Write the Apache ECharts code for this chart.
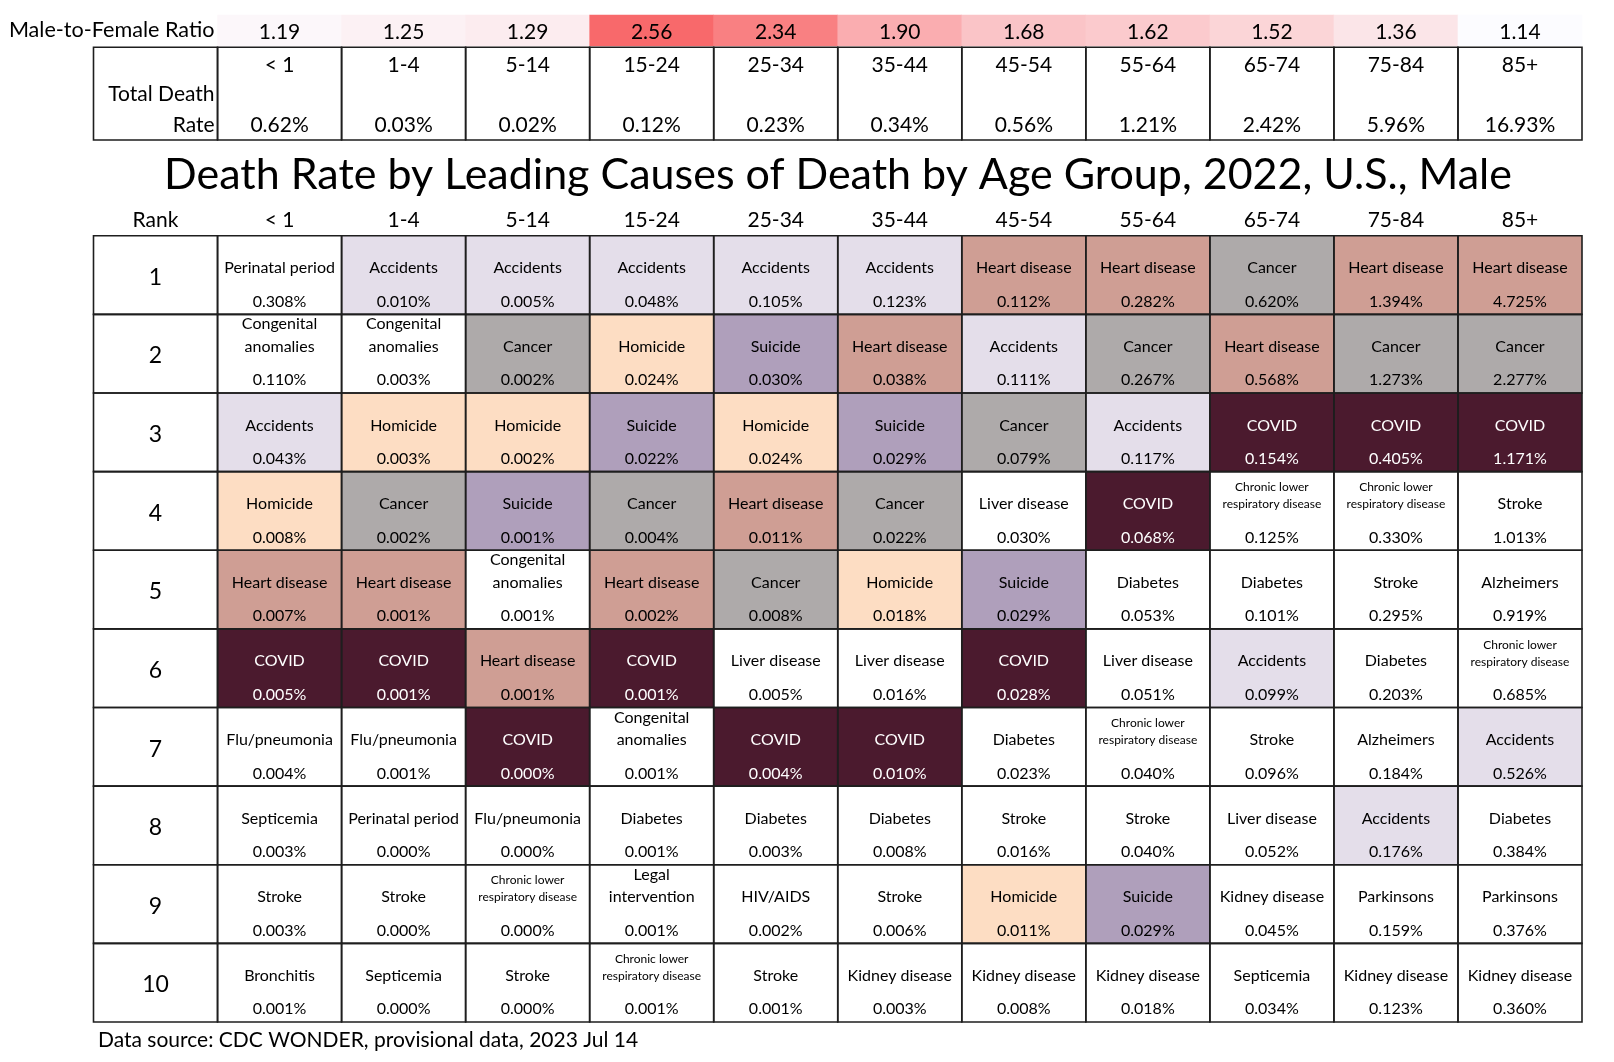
<!DOCTYPE html>
<html><head><meta charset="utf-8">
<script src="https://cdn.jsdelivr.net/npm/echarts@6/dist/echarts.min.js"></script>
<style>html,body{margin:0;padding:0;background:#fff}#chart{width:1614px;height:1062px}</style>
</head><body><div id="chart"></div>
<script>
// ---------------- data ----------------
const ageGroups = ['< 1','1-4','5-14','15-24','25-34','35-44','45-54','55-64','65-74','75-84','85+'];
const maleToFemaleRatio = [1.19,1.25,1.29,2.56,2.34,1.90,1.68,1.62,1.52,1.36,1.14];
const totalDeathRate = [0.62,0.03,0.02,0.12,0.23,0.34,0.56,1.21,2.42,5.96,16.93];
const rankLabels = ['1','2','3','4','5','6','7','8','9','10'];
const causesByRank = [
  ['Perinatal period','Accidents','Accidents','Accidents','Accidents','Accidents','Heart disease','Heart disease','Cancer','Heart disease','Heart disease'],
  ['Congenital anomalies','Congenital anomalies','Cancer','Homicide','Suicide','Heart disease','Accidents','Cancer','Heart disease','Cancer','Cancer'],
  ['Accidents','Homicide','Homicide','Suicide','Homicide','Suicide','Cancer','Accidents','COVID','COVID','COVID'],
  ['Homicide','Cancer','Suicide','Cancer','Heart disease','Cancer','Liver disease','COVID','Chronic lower respiratory disease','Chronic lower respiratory disease','Stroke'],
  ['Heart disease','Heart disease','Congenital anomalies','Heart disease','Cancer','Homicide','Suicide','Diabetes','Diabetes','Stroke','Alzheimers'],
  ['COVID','COVID','Heart disease','COVID','Liver disease','Liver disease','COVID','Liver disease','Accidents','Diabetes','Chronic lower respiratory disease'],
  ['Flu/pneumonia','Flu/pneumonia','COVID','Congenital anomalies','COVID','COVID','Diabetes','Chronic lower respiratory disease','Stroke','Alzheimers','Accidents'],
  ['Septicemia','Perinatal period','Flu/pneumonia','Diabetes','Diabetes','Diabetes','Stroke','Stroke','Liver disease','Accidents','Diabetes'],
  ['Stroke','Stroke','Chronic lower respiratory disease','Legal intervention','HIV/AIDS','Stroke','Homicide','Suicide','Kidney disease','Parkinsons','Parkinsons'],
  ['Bronchitis','Septicemia','Stroke','Chronic lower respiratory disease','Stroke','Kidney disease','Kidney disease','Kidney disease','Septicemia','Kidney disease','Kidney disease']
];
const ratesByRank = [
  [0.308,0.010,0.005,0.048,0.105,0.123,0.112,0.282,0.620,1.394,4.725],
  [0.110,0.003,0.002,0.024,0.030,0.038,0.111,0.267,0.568,1.273,2.277],
  [0.043,0.003,0.002,0.022,0.024,0.029,0.079,0.117,0.154,0.405,1.171],
  [0.008,0.002,0.001,0.004,0.011,0.022,0.030,0.068,0.125,0.330,1.013],
  [0.007,0.001,0.001,0.002,0.008,0.018,0.029,0.053,0.101,0.295,0.919],
  [0.005,0.001,0.001,0.001,0.005,0.016,0.028,0.051,0.099,0.203,0.685],
  [0.004,0.001,0.000,0.001,0.004,0.010,0.023,0.040,0.096,0.184,0.526],
  [0.003,0.000,0.000,0.001,0.003,0.008,0.016,0.040,0.052,0.176,0.384],
  [0.003,0.000,0.000,0.001,0.002,0.006,0.011,0.029,0.045,0.159,0.376],
  [0.001,0.000,0.000,0.001,0.001,0.003,0.008,0.018,0.034,0.123,0.360]
];
const titleText = 'Death Rate by Leading Causes of Death by Age Group, 2022, U.S., Male';
const sourceText = 'Data source: CDC WONDER, provisional data, 2023 Jul 14';

// ---------------- styles ----------------
const FONT = 'Lato, "Open Sans", sans-serif';
const causeColors = {
  'Accidents':'#E4DEEA', 'Cancer':'#AEAAAA', 'Heart disease':'#CF9E94',
  'Homicide':'#FDDDC3', 'Suicide':'#AF9FBB', 'COVID':'#4B1A2E'
};
const wrapped = {'Congenital anomalies':['Congenital','anomalies'], 'Legal intervention':['Legal','intervention']};
const smallWrapped = {'Chronic lower respiratory disease':['Chronic lower','respiratory disease']};
const LINE = '#1e1e1e', LW = 1.6;

function cellBox(api){
  const c = api.coord([api.value(0), api.value(1)]);
  const s = api.size([1,1]);
  return {x:c[0]-s[0]/2, y:c[1]-s[1]/2, w:s[0], h:s[1], cx:c[0]};
}
function txt(x, y, text, size, color, align){
  return {type:'text', x:x, y:y, silent:true,
    style:{text:text, fill:color||'#000', fontSize:size, fontFamily:FONT, align:align||'center', verticalAlign:'middle'}};
}
function borderItem(params, api){
  const b = cellBox(api);
  return {type:'rect', shape:{x:b.x,y:b.y,width:b.w,height:b.h}, style:{fill:'none', stroke:LINE, lineWidth:LW}};
}

const heatData = maleToFemaleRatio.map((v,i)=>[i,0,v]);
const totalData = [[0,0]].concat(totalDeathRate.map((v,i)=>[i+1,0]));
const mainData = [];
for (let r=0;r<rankLabels.length;r++) for (let c=0;c<=ageGroups.length;c++) mainData.push([c,r]);

const chart = echarts.init(document.getElementById('chart'), null, {renderer:'canvas'});
chart.setOption({
  animation:false,
  backgroundColor:'#fff',
  textStyle:{fontFamily:FONT},
  grid:[
    {left:217.5, right:32, top:15, height:31},
    {left:93.5, right:32, top:47.3, height:92.7},
    {left:93.5, right:32, top:235.7, height:786.3}
  ],
  xAxis:[
    {gridIndex:0, type:'category', data:ageGroups, show:false},
    {gridIndex:1, type:'category', data:[''].concat(ageGroups), show:false},
    {gridIndex:2, type:'category', data:['Rank'].concat(ageGroups), position:'top',
      axisLine:{show:false}, axisTick:{show:false}, splitLine:{show:false},
      axisLabel:{fontSize:21, color:'#000', fontFamily:FONT, margin:5, interval:0}}
  ],
  yAxis:[
    {gridIndex:0, type:'category', data:['Male-to-Female Ratio'],
      axisLine:{show:false}, axisTick:{show:false}, splitLine:{show:false},
      axisLabel:{fontSize:21.6, color:'#000', fontFamily:FONT, margin:3, padding:[5,0,0,0]}},
    {gridIndex:1, type:'category', data:['Total'], show:false},
    {gridIndex:2, type:'category', data:rankLabels, inverse:true, show:false}
  ],
  visualMap:{show:false, seriesIndex:0, type:'continuous', dimension:2,
    min:Math.min(...maleToFemaleRatio), max:Math.max(...maleToFemaleRatio),
    inRange:{color:['#FCFCFF','#F8696B']}},
  graphic:[
    {type:'text', x:838, y:175, silent:true,
      style:{text:titleText, fontSize:43, fontFamily:FONT, fill:'#000', align:'center', verticalAlign:'middle'}},
    {type:'text', x:98, y:1040, silent:true,
      style:{text:sourceText, fontSize:21, fontFamily:FONT, fill:'#000', align:'left', verticalAlign:'middle'}}
  ],
  series:[
    {type:'heatmap', xAxisIndex:0, yAxisIndex:0, data:heatData, silent:true,
      itemStyle:{borderWidth:0},
      label:{show:true, fontSize:21, color:'#000', fontFamily:FONT, offset:[0,2], formatter:p=>p.value[2].toFixed(2)},
      emphasis:{disabled:true}},
    {type:'custom', xAxisIndex:1, yAxisIndex:1, data:totalData, silent:true,
      renderItem:function(params, api){
        const b = cellBox(api); const col = api.value(0);
        const ch = [{type:'rect', shape:{x:b.x,y:b.y,width:b.w,height:b.h}, style:{fill:'#fff'}}];
        if (col===0){
          ch.push(txt(b.x+b.w-3, b.y+0.504*b.h, 'Total Death', 21, '#000', 'right'));
          ch.push(txt(b.x+b.w-3, b.y+0.838*b.h, 'Rate', 21, '#000', 'right'));
        } else {
          ch.push(txt(b.cx, b.y+0.195*b.h, ageGroups[col-1], 21));
          ch.push(txt(b.cx, b.y+0.838*b.h, totalDeathRate[col-1].toFixed(2)+'%', 21));
        }
        return {type:'group', children:ch};
      }},
    {type:'custom', xAxisIndex:1, yAxisIndex:1, data:totalData, silent:true, renderItem:borderItem},
    {type:'custom', xAxisIndex:2, yAxisIndex:2, data:mainData, silent:true,
      renderItem:function(params, api){
        const b = cellBox(api); const col = api.value(0), row = api.value(1);
        const ch = [];
        if (col===0){
          ch.push({type:'rect', shape:{x:b.x,y:b.y,width:b.w,height:b.h}, style:{fill:'#fff'}});
          ch.push(txt(b.cx, b.y+0.53*b.h, rankLabels[row], 23));
        } else {
          const cause = causesByRank[row][col-1];
          const rate = ratesByRank[row][col-1];
          const fill = causeColors[cause] || '#fff';
          const color = cause==='COVID' ? '#fff' : '#000';
          ch.push({type:'rect', shape:{x:b.x,y:b.y,width:b.w,height:b.h}, style:{fill:fill}});
          if (wrapped[cause]){
            ch.push(txt(b.cx, b.y+0.126*b.h, wrapped[cause][0], 16, color));
            ch.push(txt(b.cx, b.y+0.412*b.h, wrapped[cause][1], 16, color));
          } else if (smallWrapped[cause]){
            ch.push(txt(b.cx, b.y+0.201*b.h, smallWrapped[cause][0], 12, color));
            ch.push(txt(b.cx, b.y+0.417*b.h, smallWrapped[cause][1], 12, color));
          } else {
            ch.push(txt(b.cx, b.y+0.412*b.h, cause, 16, color));
          }
          ch.push(txt(b.cx, b.y+0.838*b.h, rate.toFixed(3)+'%', 16, color));
        }
        return {type:'group', children:ch};
      }},
    {type:'custom', xAxisIndex:2, yAxisIndex:2, data:mainData, silent:true, renderItem:borderItem}
  ]
});
</script></body></html>
